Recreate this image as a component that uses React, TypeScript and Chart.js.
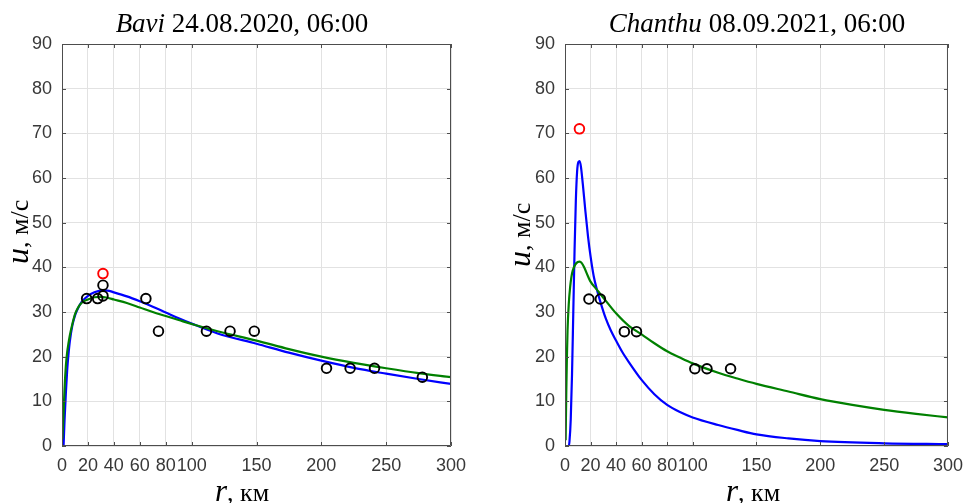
import React, { useEffect, useRef } from "react";
import { Chart, registerables } from "chart.js";

Chart.register(...registerables);

// ---------- data ----------
const xTickValues = [0, 20, 40, 60, 80, 100, 150, 200, 250, 300];

// Bavi 24.08.2020
const baviObsR = [19, 27.5, 31.6, 31.6, 64.7, 74.4, 111.4, 129.6, 148.3, 204, 222.2, 241, 277.9];
const baviObsU = [33, 33, 33.6, 36.0, 33, 25.7, 25.7, 25.7, 25.7, 17.4, 17.4, 17.4, 15.4];
const baviMaxR = [31.6];
const baviMaxU = [38.6];
const baviBlueR = [1.2, 2, 3, 4, 5, 6, 8, 10, 12, 15, 20, 25, 30, 35, 40, 50, 60, 70, 80, 90, 100, 120, 150, 175, 200, 225, 250, 275, 300];
const baviBlueU = [0, 6, 12, 17, 20.5, 23.3, 27, 29.2, 30.6, 32.2, 33.6, 34.4, 34.8, 34.8, 34.4, 33.5, 32.4, 31.2, 29.9, 28.6, 27.4, 25.2, 22.9, 20.9, 19.1, 17.5, 16.2, 15, 13.9];
const baviGreenR = [0.3, 1, 2, 3, 4, 5, 6, 8, 10, 12, 15, 20, 25, 30, 35, 40, 50, 60, 70, 80, 90, 100, 120, 150, 175, 200, 225, 250, 275, 300];
const baviGreenU = [1.5, 6, 13, 18, 21, 23, 24.7, 27.3, 29.5, 30.8, 32, 32.8, 33.3, 33.4, 33.2, 32.8, 32.0, 31.0, 30.0, 29.1, 28.2, 27.3, 25.7, 23.6, 21.7, 20, 18.6, 17.4, 16.3, 15.4];

// Chanthu 08.09.2021
const chanObsR = [18.75, 27.7, 46.5, 56, 101.7, 111.2, 129.7];
const chanObsU = [32.9, 32.9, 25.6, 25.6, 17.3, 17.3, 17.3];
const chanMaxR = [11.3];
const chanMaxU = [71.0];
const chanBlueR = [2, 3, 3.5, 4.5, 5.5, 6.5, 7.5, 8.5, 9.5, 10.5, 11.5, 12.5, 14, 16, 18, 20, 22.5, 25, 28, 32, 36, 40, 45, 50, 60, 70, 80, 90, 100, 120, 135, 150, 175, 200, 250, 300];
const chanBlueU = [0, 0, 1, 6, 16, 30, 44, 55, 61.5, 63.6, 63.8, 62.5, 58.5, 52.5, 47, 42.5, 38, 35, 32, 28.5, 25.8, 23.6, 21, 18.8, 14.8, 11.6, 9.2, 7.6, 6.4, 4.7, 3.6, 2.6, 1.7, 1.1, 0.6, 0.4];
const chanGreenR = [0.5, 1, 1.5, 2, 3, 4, 5, 6, 8, 10, 11.5, 13, 15, 18, 20, 25, 28, 32, 40, 50, 60, 70, 80, 90, 100, 120, 135, 150, 175, 200, 225, 250, 275, 300];
const chanGreenU = [1.3, 12, 20, 26, 32, 35.5, 37.8, 39.2, 40.6, 41.2, 41.3, 41, 40, 38, 36.8, 35, 33.9, 32.5, 29.7, 26.9, 25.0, 23, 21.2, 19.8, 18.5, 16.4, 15.1, 13.9, 12.2, 10.5, 9.2, 8.1, 7.2, 6.4];

const zip = (xs: number[], ys: number[]) => xs.map((x, i) => ({ x, y: ys[i] }));

const boxPlugin = {
  id: "matlabBox",
  afterDatasetsDraw(chart: any) {
    const { ctx, chartArea } = chart;
    const { left, right, top, bottom } = chartArea;
    const xs = chart.scales.x;
    const ys = chart.scales.y;
    ctx.save();
    ctx.strokeStyle = "#4d4d4d";
    ctx.lineWidth = 1;
    ctx.beginPath();
    ctx.rect(left + 0.5, top + 0.5, right - left - 1, bottom - top - 1);
    const tl = 4;
    xTickValues.forEach((v) => {
      const px = Math.round(xs.getPixelForValue(v)) + 0.5;
      ctx.moveTo(px, bottom);
      ctx.lineTo(px, bottom - tl);
      ctx.moveTo(px, top);
      ctx.lineTo(px, top + tl);
    });
    for (let v = 0; v <= 90; v += 10) {
      const py = Math.round(ys.getPixelForValue(v)) + 0.5;
      ctx.moveTo(left, py);
      ctx.lineTo(left + tl, py);
      ctx.moveTo(right, py);
      ctx.lineTo(right - tl, py);
    }
    ctx.stroke();
    ctx.restore();
  },
};

type PanelProps = {
  obsR: number[];
  obsU: number[];
  maxR: number[];
  maxU: number[];
  blueR: number[];
  blueU: number[];
  greenR: number[];
  greenU: number[];
  yAxisWidth: number;
  rightPad: number;
};

function Panel(p: PanelProps) {
  const ref = useRef<HTMLCanvasElement | null>(null);
  useEffect(() => {
    if (!ref.current) return;
    const tickFont = { family: "'Liberation Sans', Arial, sans-serif", size: 18 };
    const chart = new Chart(ref.current, {
      type: "scatter",
      data: {
        datasets: [
          {
            data: zip(p.obsR, p.obsU),
            showLine: false,
            pointStyle: "circle",
            pointRadius: 4.8,
            pointBorderWidth: 1.9,
            pointBorderColor: "#000000",
            pointBackgroundColor: "rgba(0,0,0,0)",
            order: 0,
          },
          {
            data: zip(p.maxR, p.maxU),
            showLine: false,
            pointStyle: "circle",
            pointRadius: 4.8,
            pointBorderWidth: 1.9,
            pointBorderColor: "#ff0000",
            pointBackgroundColor: "rgba(0,0,0,0)",
            order: 0,
          },
          {
            data: zip(p.greenR, p.greenU),
            showLine: true,
            pointRadius: 0,
            borderColor: "#008000",
            borderWidth: 2.2,
            cubicInterpolationMode: "monotone",
            order: 1,
          },
          {
            data: zip(p.blueR, p.blueU),
            showLine: true,
            pointRadius: 0,
            borderColor: "#0000ff",
            borderWidth: 2.2,
            cubicInterpolationMode: "monotone",
            order: 2,
          },
        ],
      },
      options: {
        animation: false,
        responsive: false,
        devicePixelRatio: 1,
        layout: { padding: { left: 0, top: 44, right: p.rightPad, bottom: 0 } },
        plugins: { legend: { display: false }, tooltip: { enabled: false }, title: { display: false } },
        scales: {
          x: {
            type: "linear",
            min: 0,
            max: 300,
            afterBuildTicks: (axis: any) => {
              axis.ticks = xTickValues.map((v) => ({ value: v }));
            },
            afterFit: (s: any) => {
              s.height = 57;
            },
            ticks: {
              autoSkip: false,
              maxRotation: 0,
              minRotation: 0,
              padding: 9,
              color: "#383838",
              font: tickFont,
              callback: (v: any) => String(v),
            },
            grid: { color: "#e2e2e2", lineWidth: 1, drawTicks: false },
            border: { display: false },
          },
          y: {
            type: "linear",
            min: 0,
            max: 90,
            ticks: { stepSize: 10, padding: 10, color: "#383838", font: tickFont },
            afterFit: (s: any) => {
              s.width = p.yAxisWidth;
            },
            grid: { color: "#e2e2e2", lineWidth: 1, drawTicks: false },
            border: { display: false },
          },
        },
      },
      plugins: [boxPlugin],
    } as any);
    return () => chart.destroy();
  }, []);
  return <canvas ref={ref} width={486} height={503} style={{ width: 486, height: 503, display: "block" }} />;
}

const serif = "'Liberation Serif', 'Times New Roman', serif";

function Title({ center, name, rest }: { center: number; name: string; rest: string }) {
  return (
    <div
      style={{
        position: "absolute",
        left: center - 200,
        width: 400,
        top: 10,
        textAlign: "center",
        fontFamily: serif,
        fontSize: 27,
        lineHeight: "27px",
        whiteSpace: "nowrap",
        color: "#000",
      }}
    >
      <i>{name}</i> {rest}
    </div>
  );
}

function YLabel({ left, top }: { left: number; top: number }) {
  return (
    <div
      style={{
        position: "absolute",
        left,
        top,
        transformOrigin: "0 0",
        transform: "rotate(-90deg)",
        fontFamily: serif,
        fontSize: 32,
        lineHeight: "32px",
        whiteSpace: "nowrap",
        color: "#000",
      }}
    >
      <i>u</i>
      <span style={{ fontSize: 26 }}>, м/с</span>
    </div>
  );
}

function XLabel({ left }: { left: number }) {
  return (
    <div
      style={{
        position: "absolute",
        left,
        top: 475,
        fontFamily: serif,
        fontSize: 31,
        lineHeight: "31px",
        whiteSpace: "nowrap",
        color: "#000",
      }}
    >
      <i>r</i>
      <span style={{ fontSize: 26 }}>, км</span>
    </div>
  );
}

export default function App() {
  return (
    <div
      style={{
        position: "fixed",
        left: 0,
        top: 0,
        width: 972,
        height: 503,
        background: "#fff",
        overflow: "hidden",
      }}
    >
      <div style={{ position: "absolute", left: 0, top: 0 }}>
        <Panel
          obsR={baviObsR}
          obsU={baviObsU}
          maxR={baviMaxR}
          maxU={baviMaxU}
          blueR={baviBlueR}
          blueU={baviBlueU}
          greenR={baviGreenR}
          greenU={baviGreenU}
          yAxisWidth={62}
          rightPad={35}
        />
      </div>
      <div style={{ position: "absolute", left: 486, top: 0 }}>
        <Panel
          obsR={chanObsR}
          obsU={chanObsU}
          maxR={chanMaxR}
          maxU={chanMaxU}
          blueR={chanBlueR}
          blueU={chanBlueU}
          greenR={chanGreenR}
          greenU={chanGreenU}
          yAxisWidth={79}
          rightPad={18}
        />
      </div>
      <Title center={242} name="Bavi" rest="24.08.2020, 06:00" />
      <Title center={757} name="Chanthu" rest="08.09.2021, 06:00" />
      <YLabel left={1} top={264} />
      <YLabel left={503} top={267} />
      <XLabel left={215} />
      <XLabel left={726} />
    </div>
  );
}
